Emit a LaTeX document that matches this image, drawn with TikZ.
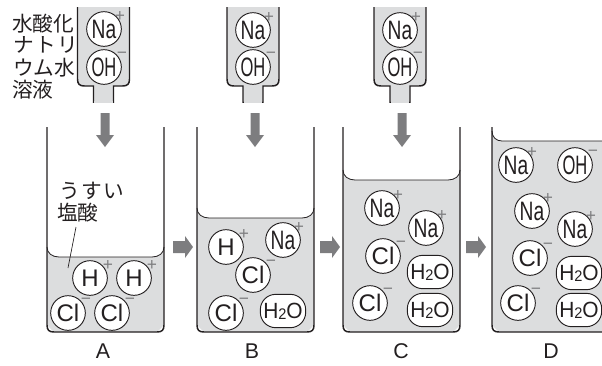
\documentclass[tikz,border=0pt]{standalone}
\usepackage{fontspec}
\setmainfont{Liberation Sans}
\newfontfamily\cjk{Noto Sans CJK JP}
\usetikzlibrary{calc}
\definecolor{liq}{RGB}{220,221,222}
\definecolor{arr}{RGB}{125,125,127}
\definecolor{ink}{RGB}{35,31,32}
\tikzset{
  x=0.75pt,y=-0.75pt,
  wall/.style={draw=ink,line width=1.1pt,fill=liq},
  ion/.style={circle,draw=ink,line width=.7pt,fill=white,minimum size=26pt,inner sep=0pt,text=ink},
  mol/.style={rounded corners=11.5pt,rectangle,draw=ink,line width=.7pt,fill=white,minimum width=34pt,minimum height=25pt,inner sep=0pt,text=ink},
  chg/.style={font=\fontsize{13}{13}\selectfont,text=arr,inner sep=0pt},
  jp/.style={font=\cjk\fontsize{15.5}{16}\selectfont,text=ink,inner sep=0pt},
  tag/.style={font=\fontsize{16}{16}\selectfont,text=ink,inner sep=0pt},
  blockarr/.style={fill=arr,draw=none},
}
\newcommand{\Naion}[2]{\node[ion] (#1) at (#2) {\fontsize{20}{20}\selectfont\scalebox{.72}[1]{Na}};\node[chg] (#1p) at ($(#1)+(16,-13)$) {+};}
\newcommand{\OHion}[2]{\node[ion] (#1) at (#2) {\fontsize{20}{20}\selectfont\scalebox{.62}[1]{OH}};\node[chg] (#1m) at ($(#1)+(18,-12)$) {\textminus};}
\newcommand{\Hion}[2]{\node[ion] (#1) at (#2) {\fontsize{18}{18}\selectfont H};\node[chg] (#1p) at ($(#1)+(18,-13)$) {+};}
\newcommand{\Clion}[2]{\node[ion] (#1) at (#2) {\fontsize{18}{18}\selectfont Cl};\node[chg] (#1m) at ($(#1)+(18,-12)$) {\textminus};}
\newcommand{\Water}[2]{\node[mol] (#1) at (#2) {\fontsize{16.5}{16}\selectfont\scalebox{.95}[1]{H{\fontsize{11.5}{10}\selectfont\raisebox{-.5pt}{2}}O}};}
\newcommand{\Burette}[2]{% centre x, top
  \draw[wall] (#1-26,#2) -- (#1-26,79) .. controls (#1-26,84) and (#1-24,86) .. (#1-19,86) -- (#1-10,86) -- (#1-10,102.5) -- (#1+10,102.5) -- (#1+10,86) -- (#1+19,86) .. controls (#1+24,86) and (#1+26,84) .. (#1+26,79) -- (#1+26,#2);
  \fill[white] (#1-12,102.5) rectangle (#1+12,105);
  \fill[liq] (#1-9.4,101) rectangle (#1+9.4,102.6);
}
\newcommand{\Beaker}[4]{% left, right, liquid top, top
  \fill[liq] (#1,#3-10) .. controls (#1,#3-4) and (#1+5,#3) .. (#1+12,#3) -- (#2-12,#3) .. controls (#2-5,#3) and (#2,#3-4) .. (#2,#3-10) -- (#2,325) -- (#2-7,332) -- (#1+7,332) -- (#1,325) -- cycle;
  \draw[draw=ink,line width=.6pt] (#1,#3-10) .. controls (#1,#3-4) and (#1+5,#3) .. (#1+12,#3) -- (#2-12,#3) .. controls (#2-5,#3) and (#2,#3-4) .. (#2,#3-10);
  \draw[draw=ink,line width=1.1pt] (#1,#4) -- (#1,325) .. controls (#1,330) and (#1+2,332) .. (#1+7,332) -- (#2-7,332) .. controls (#2-2,332) and (#2,330) .. (#2,325) -- (#2,#4);
}
\newcommand{\Down}[3]{\fill[blockarr] (#1-4.5,#2) -- (#1+4.5,#2) -- (#1+4.5,#3-12) -- (#1+9,#3-12) -- (#1,#3) -- (#1-9,#3-12) -- (#1-4.5,#3-12) -- cycle;}
\newcommand{\Right}[1]{\fill[blockarr] (#1,241) -- (#1+12,241) -- (#1+12,236) -- (#1+20,247) -- (#1+12,258) -- (#1+12,253) -- (#1,253) -- cycle;}
\begin{document}
\begin{tikzpicture}
\useasboundingbox (0,0) rectangle (602,365);
\Burette{103.5}{7}
\Burette{253}{7}
\Burette{400}{7}
\Down{105}{113}{147}
\Down{255}{113}{147}
\Down{402}{113}{147}
\Beaker{47}{164}{257}{127}
\Beaker{197}{314}{218}{127}
\Beaker{343}{460}{180}{127}
% beaker D runs off the right edge
\fill[liq] (492,131) .. controls (492,137) and (496,141) .. (502,141) -- (602,141) -- (602,332) -- (499,332) -- (492,325) -- cycle;
\draw[draw=ink,line width=.6pt] (492,131) .. controls (492,137) and (496,141) .. (502,141) -- (602,141);
\draw[draw=ink,line width=1.1pt] (492,127) -- (492,325) .. controls (492,330) and (494,332) .. (499,332) -- (602,332);
\Right{173}
\Right{320}
\Right{466}
\Naion{ba}{104,29}\OHion{bb}{104,67}
\Naion{ca}{253,30}\OHion{cb}{253,67}
\Naion{da}{400,30}\OHion{db}{400,67}
\node[jp,anchor=west] (t1) at (12,24) {水酸化};
\node[jp,anchor=west] (t2) at (13,45) {ナ\hspace{1pt}ト\hspace{1pt}リ};
\node[jp,anchor=west] (t3) at (13,68) {ウム水};
\node[jp,anchor=west] (t4) at (12,90) {溶液};
\Hion{a1}{90,278}\Hion{a2}{134,278}\Clion{a3}{68,313}\Clion{a4}{112,313}
\Hion{b1}{226,247}\Naion{b2}{283,240}\Clion{b3}{253,275}\Clion{b4}{226,313}\Water{b5}{283,311}
\Naion{c1}{382,208}\Naion{c2}{426,228}\Clion{c3}{383,256}\Clion{c4}{370,303}\Water{c5}{430,272}\Water{c6}{430,310}
\Naion{d1}{516,165}\OHion{d2}{575,165}\Naion{d3}{532,211}\Naion{d4}{575,229}\Clion{d5}{530,258}\Clion{d6}{518,303}\Water{d7}{579,273}\Water{d8}{579,310}
\node[jp,anchor=west] (u1) at (59,191) {う\hspace{1pt}す\hspace{1pt}い};
\node[jp,anchor=west] (u2) at (57,213) {塩酸};
\coordinate (u3) at (68,268);
\coordinate (u4) at (76,227);
\draw[draw=ink,line width=.5pt] (u4) -- (u3);
\node[tag] (la) at (103,351) {A};
\node[tag] (lb) at (252,351) {B};
\node[tag] (lc) at (401,351) {C};
\node[tag] (ld) at (551,351) {D};
\end{tikzpicture}
\end{document}
